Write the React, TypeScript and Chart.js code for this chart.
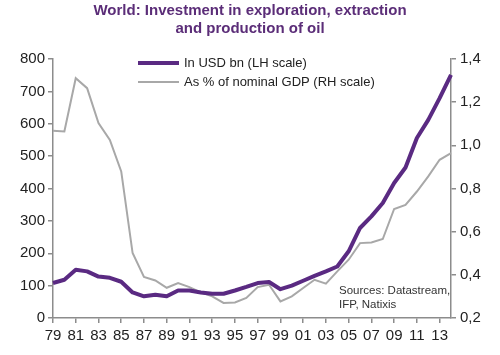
import React, { useEffect, useRef } from "react";
import { Chart, registerables } from "chart.js";

Chart.register(...registerables);

const years: string[] = [
  "1979", "1980", "1981", "1982", "1983", "1984", "1985", "1986", "1987", "1988",
  "1989", "1990", "1991", "1992", "1993", "1994", "1995", "1996", "1997", "1998",
  "1999", "2000", "2001", "2002", "2003", "2004", "2005", "2006", "2007", "2008",
  "2009", "2010", "2011", "2012", "2013", "2014",
];

const usdBn: number[] = [
  108, 118, 149, 144, 128, 124, 112, 79, 67, 72,
  67, 85, 85, 79, 75, 75, 85, 96, 108, 111,
  89, 100, 115, 130, 144, 159, 206, 278, 314, 355,
  417, 465, 556, 612, 679, 751,
];

const pctGdp: number[] = [
  1.067, 1.064, 1.311, 1.265, 1.103, 1.025, 0.879, 0.501, 0.39, 0.374,
  0.34, 0.362, 0.343, 0.319, 0.3, 0.27, 0.272, 0.293, 0.343, 0.354,
  0.277, 0.3, 0.339, 0.377, 0.359, 0.416, 0.47, 0.547, 0.55, 0.566,
  0.705, 0.724, 0.786, 0.856, 0.933, 0.964,
];

const titleLines: string[] = [
  "World: Investment in exploration, extraction",
  "and production of oil",
];
const seriesNames: string[] = ["In USD bn (LH scale)", "As % of nominal GDP (RH scale)"];
const sourceLines: string[] = ["Sources: Datastream,", "IFP, Natixis"];

const PURPLE = "#5a2a82";
const TITLE_PURPLE = "#5b2d78";
const GREY = "#a8a8a8";
const AXIS = "#8c8c8c";
const FONT = "'Liberation Sans', Arial, sans-serif";

const overlayPlugin = {
  id: "overlayText",
  afterDraw(chart: any) {
    const ctx = chart.ctx;
    ctx.save();
    const items = [
      { color: PURPLE, width: 4, y: 63 },
      { color: GREY, width: 2, y: 82 },
    ];
    items.forEach((it, i) => {
      ctx.beginPath();
      ctx.strokeStyle = it.color;
      ctx.lineWidth = it.width;
      ctx.lineCap = "butt";
      ctx.moveTo(138, it.y);
      ctx.lineTo(179, it.y);
      ctx.stroke();
      ctx.fillStyle = "#222222";
      ctx.font = `13px ${FONT}`;
      ctx.textAlign = "left";
      ctx.textBaseline = "middle";
      ctx.fillText(seriesNames[i], 184, it.y);
    });
    ctx.fillStyle = "#333333";
    ctx.font = `11.5px ${FONT}`;
    ctx.textAlign = "left";
    ctx.textBaseline = "middle";
    sourceLines.forEach((s, i) => ctx.fillText(s, 339, 291 + i * 13.5));
    ctx.restore();
  },
};

export default function App() {
  const ref = useRef<HTMLCanvasElement>(null);

  useEffect(() => {
    if (!ref.current) return;
    const chart = new Chart(ref.current, {
      type: "line",
      data: {
        labels: years,
        datasets: [
          {
            label: seriesNames[0],
            data: usdBn,
            yAxisID: "yL",
            borderColor: PURPLE,
            backgroundColor: PURPLE,
            borderWidth: 4,
            pointRadius: 0,
            tension: 0,
            borderJoinStyle: "round",
          },
          {
            label: seriesNames[1],
            data: pctGdp,
            yAxisID: "yR",
            borderColor: GREY,
            backgroundColor: GREY,
            borderWidth: 2,
            pointRadius: 0,
            tension: 0,
          },
        ],
      },
      options: {
        responsive: false,
        animation: false,
        devicePixelRatio: 1,
        layout: { padding: 0 },
        plugins: {
          legend: { display: false },
          tooltip: { enabled: false },
          title: {
            display: true,
            text: titleLines,
            color: TITLE_PURPLE,
            font: { family: FONT, size: 15, weight: "bold", lineHeight: "18px" },
            padding: { top: 2, bottom: 21 },
          },
        },
        scales: {
          x: {
            type: "category",
            offset: false,
            border: { color: AXIS, width: 1.5 },
            grid: { drawOnChartArea: false, drawTicks: true, tickLength: 5, color: AXIS, lineWidth: 1.5 },
            ticks: {
              autoSkip: false,
              maxRotation: 0,
              padding: 4,
              color: "#222222",
              font: { family: FONT, size: 15 },
              callback: (_v: any, i: number) => {
                const y = parseInt(years[i], 10);
                return y % 2 === 1 ? years[i].slice(2) : null;
              },
            },
            afterFit: (s: any) => { s.height = 37; },
          },
          yL: {
            type: "linear",
            position: "left",
            min: 0,
            max: 800,
            border: { color: AXIS, width: 1.5 },
            grid: { drawOnChartArea: false, drawTicks: true, tickLength: 5, color: AXIS, lineWidth: 1.5 },
            ticks: {
              stepSize: 100,
              padding: 3,
              color: "#222222",
              font: { family: FONT, size: 15 },
            },
            afterFit: (s: any) => { s.width = 53; },
          },
          yR: {
            type: "linear",
            position: "right",
            min: 0.2,
            max: 1.4,
            border: { color: AXIS, width: 1.5 },
            grid: { drawOnChartArea: false, drawTicks: true, tickLength: 5, color: AXIS, lineWidth: 1.5 },
            ticks: {
              stepSize: 0.2,
              padding: 4,
              color: "#222222",
              font: { family: FONT, size: 15 },
              callback: (v: any) => Number(v).toFixed(1).replace(".", ","),
            },
            afterFit: (s: any) => { s.width = 49; },
          },
        },
      },
      plugins: [overlayPlugin],
    });
    return () => chart.destroy();
  }, []);

  return (
    <div style={{ position: "fixed", left: 0, top: 0, width: 500, height: 355, background: "#ffffff" }}>
      <canvas ref={ref} width={500} height={355} style={{ display: "block" }} />
    </div>
  );
}
